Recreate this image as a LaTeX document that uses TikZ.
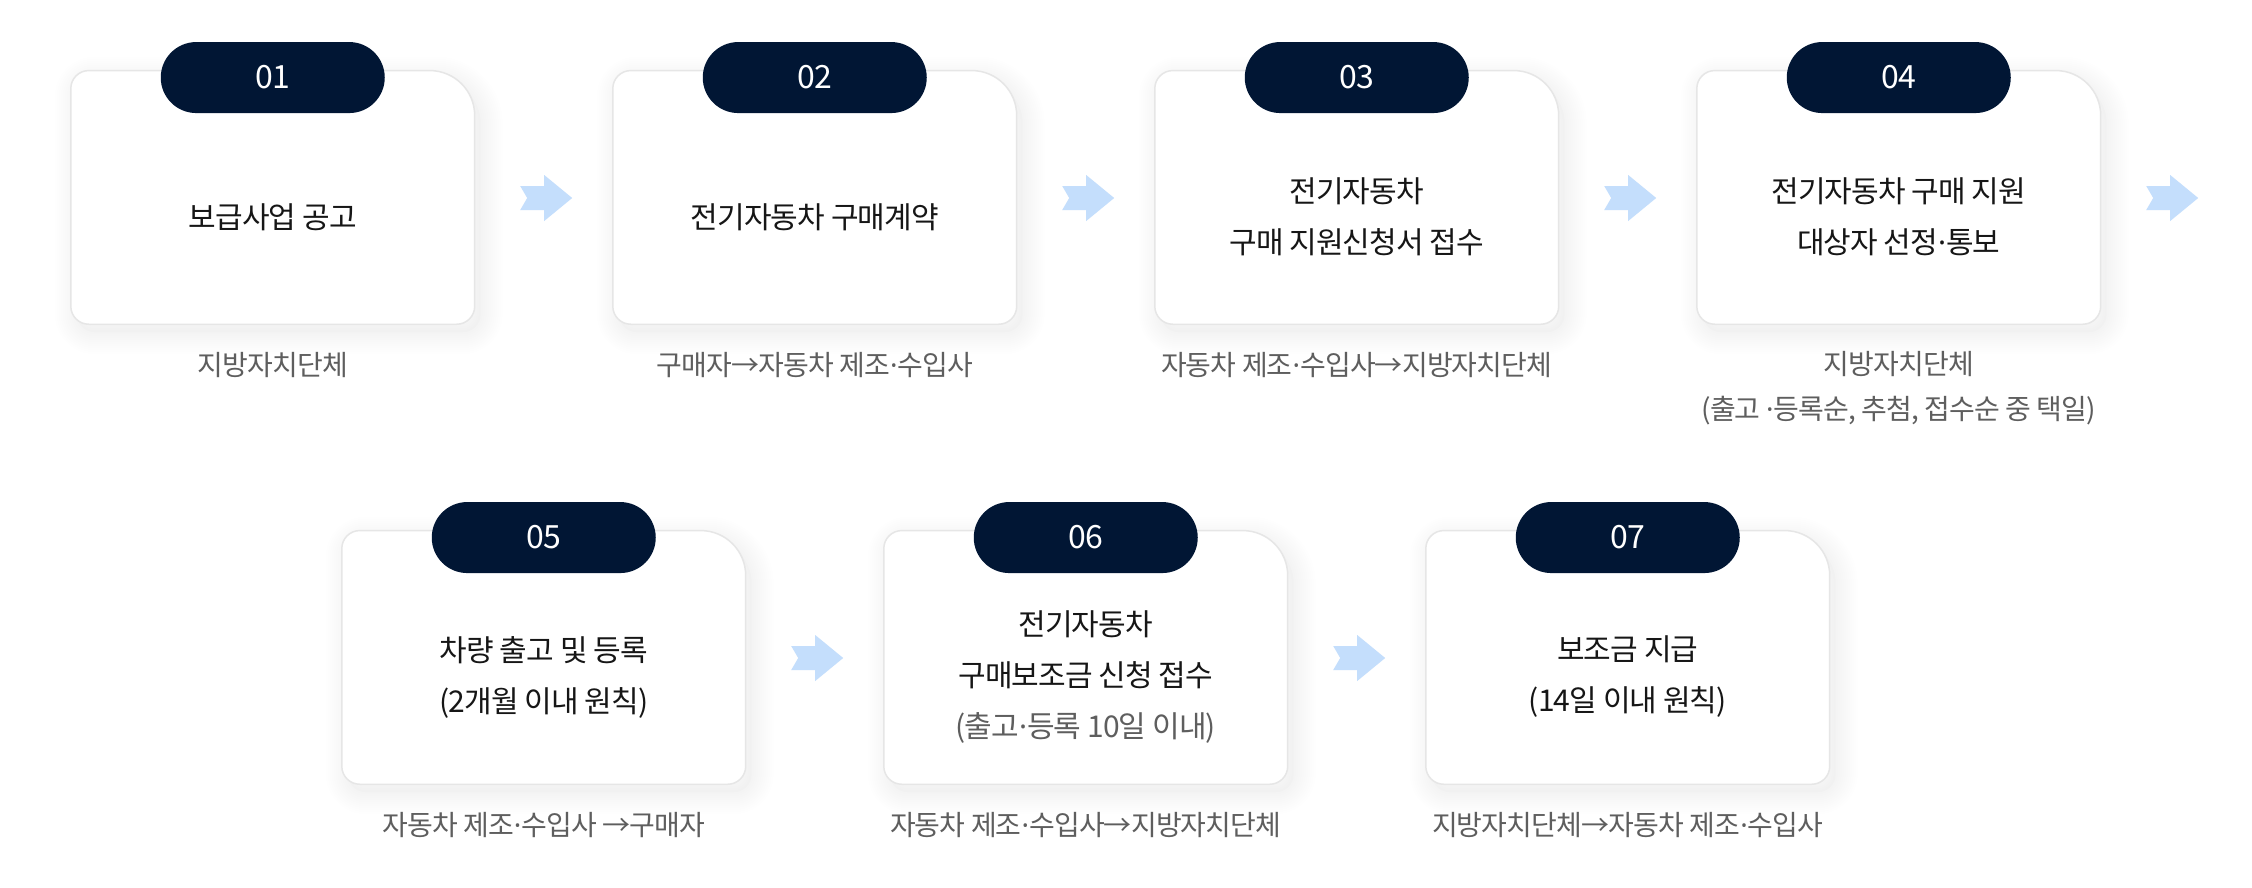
\documentclass[tikz,border=0pt]{standalone}
\usepackage{fontspec}
\setmainfont{Noto Sans CJK KR}[LetterSpace=-3]
\newfontfamily\dotfont{Noto Sans}
\usetikzlibrary{shapes.misc}

\definecolor{navy}{HTML}{011634}
\definecolor{arrowblue}{HTML}{C4DEFC}
\definecolor{cardline}{HTML}{E6E6E6}
\definecolor{ink}{HTML}{161616}
\definecolor{subgray}{HTML}{5E5E5E}

% narrow middle dot
\newcommand\md{{\dotfont ·}}

% card outline: bigger radius on the top right corner
\newcommand\cardoutline[1]{([shift={(0,-18)}]#1.south west) -- ([shift={(0,18)}]#1.north west)
  arc[start angle=180, end angle=90, radius=18pt] -- ([shift={(-45,0)}]#1.north east)
  arc[start angle=90, end angle=0, radius=45pt] -- ([shift={(0,-18)}]#1.south east)
  arc[start angle=0, end angle=-90, radius=18pt] -- ([shift={(18,0)}]#1.south west)
  arc[start angle=270, end angle=180, radius=18pt] -- cycle}

% notched block arrow around a coordinate
\newcommand\flowarrow[1]{\fill[arrowblue] ([shift={(-26,-12)}]#1) -- ([shift={(-19,0)}]#1)
  -- ([shift={(-26,12)}]#1) -- ([shift={(-2,12)}]#1) -- ([shift={(-2,23)}]#1)
  -- ([shift={(26,0)}]#1) -- ([shift={(-2,-23)}]#1) -- ([shift={(-2,-12)}]#1) -- cycle;}

\tikzset{
  card/.style={rectangle, minimum width=403.5pt, minimum height=253.3pt, inner sep=0pt},
  badge/.style={rounded rectangle, fill=navy, text=white, minimum width=224pt, minimum height=71pt,
    inner sep=0pt, font=\fontsize{32}{38}\selectfont},
  maintext/.style={align=center, text=ink, inner sep=0pt, font=\fontsize{30}{51}\selectfont},
  subtext/.style={align=center, text=subgray, inner sep=0pt, font=\fontsize{28}{45}\selectfont},
  shadowpart/.style={black, line join=round, transform canvas={shift={(6pt,-8pt)}}},
}

\begin{document}
\begin{tikzpicture}[x=1pt, y=-1pt]
        \fill[white] (0,0) rectangle (2252,887);
        \useasboundingbox (0,0) rectangle (2252,887);

        % cards, first row
        \node[card] (b1) at (272.75,197.4) {};
        \node[card] (b2) at (814.75,197.4) {};
        \node[card] (b3) at (1356.75,197.4) {};
        \node[card] (b4) at (1898.75,197.4) {};
        % cards, second row
        \node[card] (b5) at (543.75,657.4) {};
        \node[card] (b6) at (1085.75,657.4) {};
        \node[card] (b7) at (1627.75,657.4) {};

        % soft shadows
        \foreach \b in {b1,b2,b3,b4,b5,b6,b7}{
            \fill[shadowpart, fill opacity=0.012] \cardoutline{\b};
            \foreach \w in {4,8,...,44}
                \draw[shadowpart, draw opacity=0.0035, line width=\w*1pt] \cardoutline{\b};
        }
        \foreach \b in {b1,b2,b3,b4,b5,b6,b7}
            \filldraw[fill=white, draw=cardline, line width=1.5pt] \cardoutline{\b};

        % step numbers
        \node[badge] (n1) at ([shift={(0,7)}]b1.north) {01};
        \node[badge] (n2) at ([shift={(0,7)}]b2.north) {02};
        \node[badge] (n3) at ([shift={(0,7)}]b3.north) {03};
        \node[badge] (n4) at ([shift={(0,7)}]b4.north) {04};
        \node[badge] (n5) at ([shift={(0,7)}]b5.north) {05};
        \node[badge] (n6) at ([shift={(0,7)}]b6.north) {06};
        \node[badge] (n7) at ([shift={(0,7)}]b7.north) {07};

        % step titles
        \node[maintext] (t1) at ([shift={(0,19.6)}]b1.center) {보급사업 공고};
        \node[maintext] (t2) at ([shift={(0,19.6)}]b2.center) {전기자동차 구매계약};
        \node[maintext] (t3) at ([shift={(0,19.6)}]b3.center) {전기자동차\\구매 지원신청서 접수};
        \node[maintext] (t4) at ([shift={(0,19.6)}]b4.center) {전기자동차 구매 지원\\대상자 선정\md 통보};
        \node[maintext] (t5) at ([shift={(0,19.6)}]b5.center) {차량 출고 및 등록\\(2개월 이내 원칙)};
        \node[maintext] (t6) at ([shift={(0,19.6)}]b6.center) {전기자동차\\구매보조금 신청 접수\\{\color{subgray}(출고\md 등록 10일 이내)}};
        \node[maintext] (t7) at ([shift={(0,19.6)}]b7.center) {보조금 지급\\(14일 이내 원칙)};

        % who does it
        \node[subtext] (s1) at ([shift={(0,41)}]b1.south) {지방자치단체};
        \node[subtext] (s2) at ([shift={(0,41)}]b2.south) {구매자→자동차 제조\md 수입사};
        \node[subtext] (s3) at ([shift={(0,41)}]b3.south) {자동차 제조\md 수입사→지방자치단체};
        \node[subtext] (s4) at ([shift={(0,63.5)}]b4.south) {지방자치단체\\(출고 \md 등록순, 추첨, 접수순 중 택일)};
        \node[subtext] (s5) at ([shift={(0,41)}]b5.south) {자동차 제조\md 수입사 →구매자};
        \node[subtext] (s6) at ([shift={(0,41)}]b6.south) {자동차 제조\md 수입사→지방자치단체};
        \node[subtext] (s7) at ([shift={(0,41)}]b7.south) {지방자치단체→자동차 제조\md 수입사};

        % arrows between the cards
        \coordinate (a1) at ([shift={(71.5,0.6)}]b1.east);
        \coordinate (a2) at ([shift={(71.5,0.6)}]b2.east);
        \coordinate (a3) at ([shift={(71.5,0.6)}]b3.east);
        \coordinate (a4) at ([shift={(71.5,0.6)}]b4.east);
        \coordinate (a5) at ([shift={(71.5,0.6)}]b5.east);
        \coordinate (a6) at ([shift={(71.5,0.6)}]b6.east);
        \flowarrow{a1}
        \flowarrow{a2}
        \flowarrow{a3}
        \flowarrow{a4}
        \flowarrow{a5}
        \flowarrow{a6}
\end{tikzpicture}
\end{document}
